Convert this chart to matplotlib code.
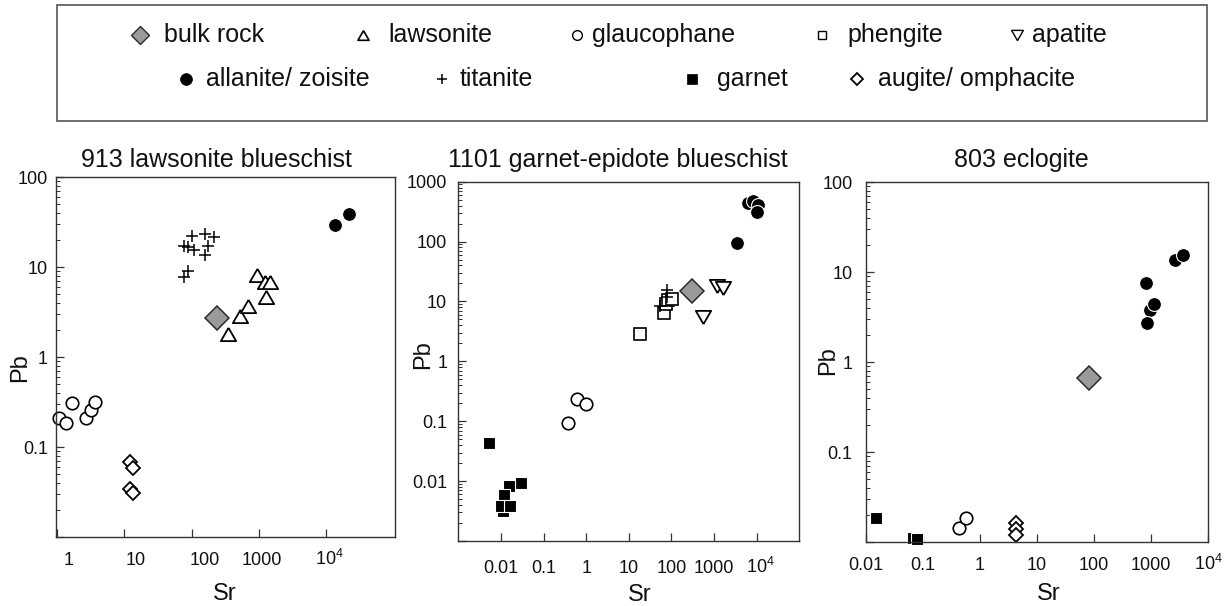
import matplotlib
matplotlib.use('Agg')
import matplotlib.pyplot as plt
import numpy as np
from matplotlib.transforms import blended_transform_factory, ScaledTranslation
from matplotlib.patches import Rectangle
from matplotlib.ticker import FixedLocator, FixedFormatter, NullFormatter, NullLocator, LogLocator

plt.rcParams['font.family'] = ['Liberation Sans', 'DejaVu Sans']
plt.rcParams['mathtext.fontset'] = 'custom'
plt.rcParams['mathtext.rm'] = 'Liberation Sans'
plt.rcParams['mathtext.it'] = 'Liberation Sans:italic'
plt.rcParams['mathtext.bf'] = 'Liberation Sans:bold'

# ---------------- data ----------------
titles = ["913 lawsonite blueschist", "1101 garnet-epidote blueschist", "803 eclogite"]
legend_row1 = ["bulk rock", "lawsonite", "glaucophane", "phengite", "apatite"]
legend_row2 = ["allanite/ zoisite", "titanite", "garnet", "augite/ omphacite"]
legend_keys1 = ["bulk", "lawsonite", "glaucophane", "phengite", "apatite"]
legend_keys2 = ["allanite", "titanite", "garnet", "augite"]

# panel 1 : 913 lawsonite blueschist
p1_glaucophane_sr = [1.07, 1.35, 1.64, 2.69, 3.16, 3.67]
p1_glaucophane_pb = [0.21, 0.185, 0.31, 0.21, 0.26, 0.316]
p1_augite_sr = [12.3, 13.3, 12.3, 13.3]
p1_augite_pb = [0.069, 0.058, 0.034, 0.031]
p1_titanite_sr = [76, 87, 103, 107, 158, 219, 178, 158, 76, 87]
p1_titanite_pb = [17.0, 16.7, 21.9, 15.6, 23.4, 21.5, 17.3, 13.7, 7.7, 9.0]
p1_lawsonite_sr = [347, 519, 692, 955, 1230, 1462, 1274]
p1_lawsonite_pb = [1.82, 2.88, 3.66, 8.2, 6.9, 6.76, 4.64]
p1_bulk_sr = [240]
p1_bulk_pb = [2.7]
p1_allanite_sr = [13500, 21900]
p1_allanite_pb = [29.5, 39.2]

# panel 2 : 1101 garnet-epidote blueschist
p2_garnet_sr = [0.011, 0.0053, 0.0295, 0.0151, 0.012, 0.010, 0.0163]
p2_garnet_pb = [0.0032, 0.0432, 0.0093, 0.0084, 0.0059, 0.0038, 0.0038]
p2_glaucophane_sr = [0.384, 0.614, 1.0]
p2_glaucophane_pb = [0.093, 0.235, 0.194]
p2_phengite_sr = [18, 66, 75, 85, 105]
p2_phengite_pb = [2.9, 6.5, 9.0, 10.5, 10.8]
p2_titanite_sr = [53, 77, 80]
p2_titanite_pb = [8.5, 15.8, 12.0]
p2_bulk_sr = [296]
p2_bulk_pb = [14.8]
p2_apatite_sr = [556, 1150, 1586]
p2_apatite_pb = [5.5, 17.9, 16.8]
p2_allanite_sr = [3390, 6300, 8300, 10500, 10000]
p2_allanite_pb = [95, 445, 470, 415, 310]

# panel 3 : 803 eclogite
p3_garnet_sr = [0.015, 0.068, 0.078]
p3_garnet_pb = [0.0186, 0.0112, 0.0110]
p3_glaucophane_sr = [0.43, 0.56]
p3_glaucophane_pb = [0.0144, 0.0186]
p3_augite_sr = [4.3, 4.3, 4.3]
p3_augite_pb = [0.0164, 0.0141, 0.0122]
p3_bulk_sr = [82.8]
p3_bulk_pb = [0.67]
p3_allanite_sr = [818, 960, 1100, 837, 2630, 3590]
p3_allanite_pb = [7.6, 3.85, 4.45, 2.74, 13.6, 15.7]

# ticks
p1_xticks = [1, 10, 100, 1000, 1e4]
p1_xlabels = ["1", "10", "100", "1000", r"10$^{4}$"]
p1_yticks = [0.01, 0.1, 1, 10, 100]
p1_ylabels = ["", "0.1", "1", "10", "100"]
p2_xticks = [0.01, 0.1, 1, 10, 100, 1000, 1e4]
p2_xlabels = ["0.01", "0.1", "1", "10", "100", "1000", r"10$^{4}$"]
p2_yticks = [0.001, 0.01, 0.1, 1, 10, 100, 1000]
p2_ylabels = ["", "0.01", "0.1", "1", "10", "100", "1000"]
p3_xticks = [0.01, 0.1, 1, 10, 100, 1000, 1e4]
p3_xlabels = ["0.01", "0.1", "1", "10", "100", "1000", r"10$^{4}$"]
p3_yticks = [0.01, 0.1, 1, 10, 100]
p3_ylabels = ["", "0.1", "1", "10", "100"]

# ---------------- styles ----------------
tri_up = [(0, 0.433), (-0.5, -0.433), (0.5, -0.433), (0, 0.433)]
tri_dn = [(0, -0.433), (-0.5, 0.433), (0.5, 0.433), (0, -0.433)]
styles = {
    'bulk': dict(marker='D', ms=12.2, mfc='#9a9a9a', mec='#2a2a2a', mew=1.1),
    'lawsonite': dict(marker=tri_up, ms=11, mfc='white', mec='black', mew=1.3),
    'glaucophane': dict(marker='o', ms=9, mfc='white', mec='black', mew=1.2),
    'phengite': dict(marker='s', ms=8.6, mfc='white', mec='black', mew=1.2),
    'apatite': dict(marker=tri_dn, ms=11, mfc='white', mec='black', mew=1.3),
    'allanite': dict(marker='o', ms=10, mfc='black', mec='white', mew=0.8),
    'titanite': dict(marker='+', ms=8, mec='black', mew=1.1),
    'garnet': dict(marker='s', ms=9, mfc='black', mec='white', mew=0.8),
    'augite': dict(marker='D', ms=7.4, mfc='white', mec='black', mew=1.3),
}
leg_styles = {
    'bulk': dict(marker='D', ms=9.6, mfc='#9a9a9a', mec='#2a2a2a', mew=1.0),
    'lawsonite': dict(marker=tri_up, ms=8, mfc='white', mec='black', mew=1.2),
    'glaucophane': dict(marker='o', ms=7, mfc='white', mec='black', mew=1.0),
    'phengite': dict(marker='s', ms=6, mfc='white', mec='black', mew=1.0),
    'apatite': dict(marker=tri_dn, ms=8.5, mfc='white', mec='black', mew=1.0),
    'allanite': dict(marker='o', ms=8.5, mfc='black', mec='black', mew=0.5),
    'titanite': dict(marker='+', ms=7, mec='black', mew=1.1),
    'garnet': dict(marker='s', ms=7, mfc='black', mec='black', mew=0.5),
    'augite': dict(marker='D', ms=6, mfc='white', mec='black', mew=1.3),
}

W, H, DPI = 1229, 606, 100
fig = plt.figure(figsize=(W / DPI, H / DPI), dpi=DPI)

# ---------------- legend box (pixel layout) ----------------
lax = fig.add_axes([0, 0, 1, 1], zorder=0)
lax.set_xlim(0, W)
lax.set_ylim(H, 0)
lax.axis('off')
lax.add_patch(Rectangle((57, 5), 1207 - 57, 121 - 5, fill=False, ec='#555555', lw=1.2))
row1_mx = [140, 363, 577, 822, 1017]
row1_tx = [164, 388, 592, 847, 1032]
row2_mx = [186, 442, 692, 857]
row2_tx = [206, 460, 717, 878]
for key, lab, mx, tx in zip(legend_keys1, legend_row1, row1_mx, row1_tx):
    lax.plot([mx], [35], ls='none', **leg_styles[key])
    lax.text(tx, 42, lab, fontsize=18, ha='left', va='baseline', color='#111111')
for key, lab, mx, tx in zip(legend_keys2, legend_row2, row2_mx, row2_tx):
    lax.plot([mx], [79], ls='none', **leg_styles[key])
    lax.text(tx, 86, lab, fontsize=18, ha='left', va='baseline', color='#111111')

# ---------------- panels ----------------
def px_rect(l, t, r, b):
    return [l / W, 1 - b / H, (r - l) / W, (b - t) / H]

panels = [
    dict(rect=px_rect(56, 177, 395, 537), xlim=(0.957, 1.07e5), ylim=(0.01, 100),
         xticks=p1_xticks, xlabels=p1_xlabels, xoffs=[11, 11, 13, 3, 4], drop=28,
         yticks=p1_yticks, ylabels=p1_ylabels, ypad=5.8,
         title=titles[0], tx=216, srx=225, sry=600, pbx=20, pby=368,
         series=[('glaucophane', p1_glaucophane_sr, p1_glaucophane_pb),
                 ('augite', p1_augite_sr, p1_augite_pb),
                 ('titanite', p1_titanite_sr, p1_titanite_pb),
                 ('lawsonite', p1_lawsonite_sr, p1_lawsonite_pb),
                 ('bulk', p1_bulk_sr, p1_bulk_pb),
                 ('allanite', p1_allanite_sr, p1_allanite_pb)]),
    dict(rect=px_rect(458.3, 181.7, 799.3, 541), xlim=(1e-3, 1e5), ylim=(1e-3, 1e3),
         xticks=p2_xticks, xlabels=p2_xlabels, xoffs=[0, 0, 0, 0, 0, 0, 4], drop=32,
         yticks=p2_yticks, ylabels=p2_ylabels, ypad=8,
         title=titles[1], tx=618, srx=640, sry=601, pbx=423, pby=355,
         series=[('garnet', p2_garnet_sr, p2_garnet_pb),
                 ('glaucophane', p2_glaucophane_sr, p2_glaucophane_pb),
                 ('phengite', p2_phengite_sr, p2_phengite_pb),
                 ('titanite', p2_titanite_sr, p2_titanite_pb),
                 ('bulk', p2_bulk_sr, p2_bulk_pb),
                 ('apatite', p2_apatite_sr, p2_apatite_pb),
                 ('allanite', p2_allanite_sr, p2_allanite_pb)]),
    dict(rect=px_rect(865.7, 182.3, 1208.3, 542.3), xlim=(0.01, 1e4), ylim=(0.01, 100),
         xticks=p3_xticks, xlabels=p3_xlabels, xoffs=[0, 0, 0, 0, 0, 0, 0], drop=28,
         yticks=p3_yticks, ylabels=p3_ylabels, ypad=9.4,
         title=titles[2], tx=1021, srx=1049, sry=600, pbx=828, pby=361,
         series=[('garnet', p3_garnet_sr, p3_garnet_pb),
                 ('glaucophane', p3_glaucophane_sr, p3_glaucophane_pb),
                 ('augite', p3_augite_sr, p3_augite_pb),
                 ('bulk', p3_bulk_sr, p3_bulk_pb),
                 ('allanite', p3_allanite_sr, p3_allanite_pb)]),
]

for P in panels:
    ax = fig.add_axes(P['rect'], zorder=2)
    ax.set_xscale('log')
    ax.set_yscale('log')
    for key, xs, ys in P['series']:
        ax.plot(xs, ys, ls='none', clip_on=False, **styles[key])
    ax.set_xlim(*P['xlim'])
    ax.set_ylim(*P['ylim'])
    ax.xaxis.set_major_locator(FixedLocator(P['xticks']))
    ax.xaxis.set_major_formatter(NullFormatter())
    ax.xaxis.set_minor_locator(NullLocator())
    ax.yaxis.set_major_locator(FixedLocator(P['yticks']))
    ax.yaxis.set_major_formatter(FixedFormatter(P['ylabels']))
    ax.yaxis.set_minor_locator(LogLocator(base=10, subs=np.arange(2, 10), numticks=30))
    ax.yaxis.set_minor_formatter(NullFormatter())
    ax.tick_params(axis='both', which='both', direction='in', top=False, right=False,
                   color='#333333')
    ax.tick_params(axis='y', which='major', length=5.5, width=0.9, pad=P['ypad'],
                   labelsize=13, labelcolor='#111111')
    ax.tick_params(axis='y', which='minor', length=3.2, width=0.7)
    ax.tick_params(axis='x', which='major', length=6, width=0.9)
    for sp in ax.spines.values():
        sp.set_color('#333333')
        sp.set_linewidth(1.0)
    trans = blended_transform_factory(ax.transData, ax.transAxes)
    for v, lab, dx in zip(P['xticks'], P['xlabels'], P['xoffs']):
        off = ScaledTranslation(dx / DPI, -P['drop'] / DPI, fig.dpi_scale_trans)
        ax.text(v, 0, lab, transform=trans + off, ha='center', va='baseline',
                fontsize=13, color='#111111', clip_on=False)
    fig.text(P['tx'] / W, 1 - 167 / H, P['title'], ha='center', va='baseline',
             fontsize=18, color='#111111')
    fig.text(P['srx'] / W, 1 - P['sry'] / H, "Sr", ha='center', va='baseline',
             fontsize=17, color='#111111')
    fig.text(P['pbx'] / W, 1 - P['pby'] / H, "Pb", ha='center', va='center',
             rotation=90, fontsize=17, color='#111111')

fig.savefig('out.png', dpi=DPI)
